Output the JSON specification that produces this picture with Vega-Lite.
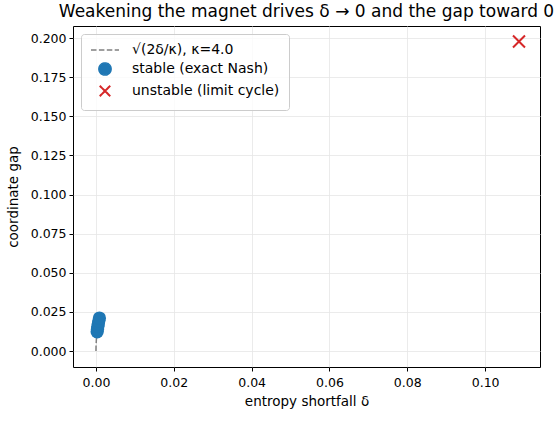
{
  "$schema": "https://vega.github.io/schema/vega-lite/v6.json",
  "width": 467,
  "height": 341,
  "autosize": "none",
  "padding": {"left": 73, "top": 26, "right": 15, "bottom": 77},
  "title": {
    "text": "Weakening the magnet drives δ → 0 and the gap toward 0",
    "font": "DejaVu Sans",
    "fontSize": 17,
    "fontWeight": "normal",
    "color": "black",
    "offset": 5
  },
  "datasets": {
    "curve": [
      {"series": "√(2δ/κ), κ=4.0", "delta": 0.0, "gap": 0.0},
      {"series": "√(2δ/κ), κ=4.0", "delta": 0.00002, "gap": 0.0032},
      {"series": "√(2δ/κ), κ=4.0", "delta": 0.0001, "gap": 0.0071},
      {"series": "√(2δ/κ), κ=4.0", "delta": 0.0003, "gap": 0.0122},
      {"series": "√(2δ/κ), κ=4.0", "delta": 0.0006, "gap": 0.0173},
      {"series": "√(2δ/κ), κ=4.0", "delta": 0.00089, "gap": 0.0211}
    ],
    "runs": [
      {"series": "stable (exact Nash)", "delta": 0.0003, "gap": 0.0123},
      {"series": "stable (exact Nash)", "delta": 0.00039, "gap": 0.014},
      {"series": "stable (exact Nash)", "delta": 0.0005, "gap": 0.0158},
      {"series": "stable (exact Nash)", "delta": 0.00061, "gap": 0.0175},
      {"series": "stable (exact Nash)", "delta": 0.00074, "gap": 0.0193},
      {"series": "stable (exact Nash)", "delta": 0.00089, "gap": 0.0211},
      {"series": "unstable (limit cycle)", "delta": 0.1087, "gap": 0.1978}
    ]
  },
  "encoding": {
    "x": {
      "field": "delta",
      "type": "quantitative",
      "scale": {"domain": [-0.0059, 0.1141], "nice": false, "zero": false},
      "axis": {"title": "entropy shortfall δ", "values": [0, 0.02, 0.04, 0.06, 0.08, 0.1], "format": ".2f", "labelPadding": 5, "titlePadding": 6}
    },
    "y": {
      "field": "gap",
      "type": "quantitative",
      "scale": {"domain": [-0.0102, 0.2077], "nice": false, "zero": false},
      "axis": {"title": "coordinate gap", "values": [0, 0.025, 0.05, 0.075, 0.1, 0.125, 0.15, 0.175, 0.2], "format": ".3f", "titlePadding": 10}
    },
    "color": {
      "field": "series",
      "type": "nominal",
      "scale": {
        "domain": ["√(2δ/κ), κ=4.0", "stable (exact Nash)", "unstable (limit cycle)"],
        "range": ["#808080", "#1f77b4", "#d62728"]
      },
      "legend": {
        "title": null,
        "orient": "top-left",
        "offset": 8,
        "symbolOffset": 8,
        "labelOffset": 20,
        "encode": {
          "symbols": {
            "update": {
              "shape": {"signal": "datum.value === 'stable (exact Nash)' ? 'circle' : datum.value === 'unstable (limit cycle)' ? 'M-1,-1L1,1M-1,1L1,-1' : 'stroke'"},
              "size": {"signal": "datum.value === 'stable (exact Nash)' ? 150 : datum.value === 'unstable (limit cycle)' ? 110 : 784"},
              "fill": {"signal": "datum.value === 'stable (exact Nash)' ? '#1f77b4' : 'transparent'"},
              "stroke": {"signal": "datum.value === 'stable (exact Nash)' ? 'transparent' : datum.value === 'unstable (limit cycle)' ? '#d62728' : '#808080'"},
              "strokeWidth": {"signal": "datum.value === 'unstable (limit cycle)' ? 2 : 1.5"},
              "strokeDash": {"signal": "datum.value === 'unstable (limit cycle)' || datum.value === 'stable (exact Nash)' ? [1, 0] : [5.5, 2.4]"},
              "opacity": {"value": 1}
            }
          }
        }
      }
    }
  },
  "layer": [
    {
      "data": {"name": "curve"},
      "mark": {"type": "line", "strokeDash": [5.5, 2.4], "strokeWidth": 1.5}
    },
    {
      "data": {"name": "runs"},
      "transform": [{"filter": "datum.series === 'stable (exact Nash)'"}],
      "mark": {"type": "circle", "size": 175, "opacity": 1}
    },
    {
      "data": {"name": "runs"},
      "transform": [{"filter": "datum.series === 'unstable (limit cycle)'"}],
      "mark": {"type": "point", "shape": "M-1,-1L1,1M-1,1L1,-1", "filled": false, "size": 144, "strokeWidth": 2, "opacity": 1}
    }
  ],
  "config": {
    "font": "DejaVu Sans",
    "view": {"stroke": "black", "strokeWidth": 1},
    "axis": {
      "labelFont": "DejaVu Sans",
      "labelFontSize": 12.5,
      "labelColor": "black",
      "titleFont": "DejaVu Sans",
      "titleFontSize": 13.5,
      "titleFontWeight": "normal",
      "titleColor": "black",
      "tickColor": "black",
      "tickSize": 4,
      "labelPadding": 3,
      "domain": false,
      "gridColor": "#e6e6e6",
      "gridWidth": 0.8
    },
    "legend": {
      "labelFont": "DejaVu Sans",
      "labelFontSize": 14,
      "labelColor": "black",
      "padding": 9,
      "rowPadding": 2,
      "strokeColor": "#cccccc",
      "fillColor": "rgba(255,255,255,0.8)",
      "cornerRadius": 3,
      "symbolSize": 784
    }
  }
}
